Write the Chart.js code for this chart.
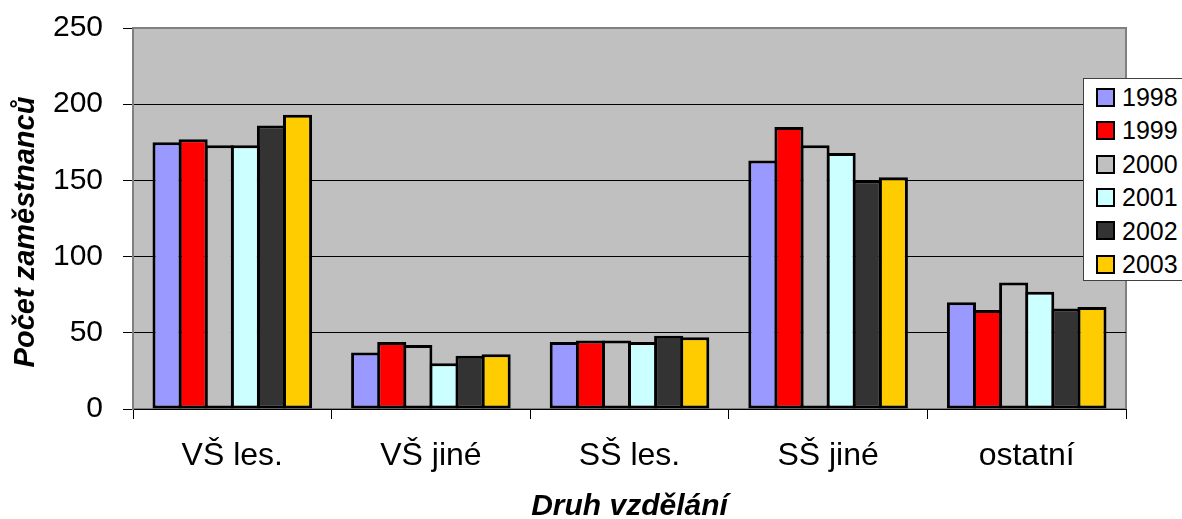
<!DOCTYPE html>
<html>
<head>
<meta charset="utf-8">
<script src="https://cdn.jsdelivr.net/npm/chart.js@4"></script>
<style>
  body { margin: 0; background: #fff; }
  #holder { position: relative; width: 1182px; height: 519px; }
  #legend {
    position: absolute; left: 1083px; top: 78px; width: 110px; height: 203px;
    background: #fff; border: 1px solid #404040; box-sizing: border-box;
    font-family: 'Liberation Sans', Arial, sans-serif; font-size: 25px;
  }
  .item { position: absolute; left: 12px; height: 28px; line-height: 28px; white-space: nowrap; }
  .swatch {
    display: inline-block; width: 15px; height: 15px; border: 2px solid #000;
    vertical-align: middle; margin-right: 7px; position: relative; top: -2px;
  }
</style>
</head>
<body>
<div id="holder">
  <canvas id="chart" width="1182" height="519"></canvas>
  <div id="legend"></div>
</div>
<script>
// Categories and values per year
const categories = ['VŠ les.', 'VŠ jiné', 'SŠ les.', 'SŠ jiné', 'ostatní'];
const years = ['1998', '1999', '2000', '2001', '2002', '2003'];
const values1998 = [175, 37, 44, 163, 70];
const values1999 = [177, 44, 45, 185, 65];
const values2000 = [173, 42, 45, 173, 83];
const values2001 = [173, 30, 44, 168, 77];
const values2002 = [186, 35, 48, 150, 66];
const values2003 = [193, 36, 47, 152, 67];
const yTicks = [0, 50, 100, 150, 200, 250];

const seriesValues = [values1998, values1999, values2000, values2001, values2002, values2003];
const seriesColors = ['#9999FF', '#FF0000', '#C0C0C0', '#CCFFFF', '#333333', '#FFCC00'];

const fontFamily = "'Liberation Sans', Arial, sans-serif";

// Grey plot background with border, plus the rotated y title
const plotBackground = {
    id: 'plotBackground',
    beforeDraw(chart) {
        const {ctx, chartArea: a} = chart;
        ctx.save();
        ctx.fillStyle = '#C0C0C0';
        ctx.fillRect(a.left, a.top, a.right - a.left, a.bottom - a.top);
        ctx.strokeStyle = '#808080';
        ctx.lineWidth = 2;
        ctx.strokeRect(a.left, a.top, a.right - a.left, a.bottom - a.top);
        ctx.restore();
    },
    afterDraw(chart) {
        const ctx = chart.ctx;
        ctx.save();
        ctx.translate(26, 232);
        ctx.rotate(-Math.PI / 2);
        ctx.font = 'italic bold 29px ' + fontFamily;
        ctx.fillStyle = '#000';
        ctx.textAlign = 'center';
        ctx.textBaseline = 'middle';
        ctx.fillText('Počet zaměstnanců', 0, 0);
        ctx.restore();
    }
};

const datasets = years.map((year, i) => ({
    label: year,
    data: seriesValues[i],
    backgroundColor: seriesColors[i],
    borderColor: '#000',
    borderWidth: 3,
    borderSkipped: false,
    categoryPercentage: 0.7885,
    barPercentage: 1.115
}));

const config = {
    type: 'bar',
    data: { labels: categories, datasets: datasets },
    options: {
        responsive: false,
        animation: false,
        layout: { padding: { top: 0, right: 56, left: 0, bottom: 0 } },
        scales: {
            x: {
                grid: { offset: true, drawOnChartArea: false, tickLength: 10, color: '#000', tickColor: '#000' },
                border: { color: '#000', width: 1 },
                ticks: { color: '#000', padding: 18, font: { family: fontFamily, size: 32 } },
                title: {
                    display: true, text: 'Druh vzdělání', color: '#000',
                    padding: { top: 0, bottom: 0 },
                    font: { family: fontFamily, size: 30, weight: 'bold', style: 'italic', lineHeight: 0.8 }
                },
                afterFit(scale) { scale.height = 110; }
            },
            y: {
                min: 0, max: 250,
                afterBuildTicks(scale) { scale.ticks = yTicks.map(v => ({ value: v })); },
                grid: {
                    tickLength: 10, tickColor: '#000',
                    color: ctx => (ctx.tick && ctx.tick.value === 250) ? 'rgba(0,0,0,0)' : '#000'
                },
                border: { color: '#808080', width: 2 },
                ticks: { color: '#000', padding: 20, font: { family: fontFamily, size: 30 } },
                afterFit(scale) { scale.width = 133; scale.paddingTop = 28; }
            }
        },
        plugins: {
            legend: { display: false },
            tooltip: { enabled: false }
        }
    },
    plugins: [plotBackground]
};

new Chart(document.getElementById('chart').getContext('2d'), config);

// HTML legend overlapping the plot's right edge
const legend = document.getElementById('legend');
years.forEach((year, i) => {
    const item = document.createElement('div');
    item.className = 'item';
    item.style.top = (4 + i * 33.4) + 'px';
    const sw = document.createElement('span');
    sw.className = 'swatch';
    sw.style.background = seriesColors[i];
    item.appendChild(sw);
    item.appendChild(document.createTextNode(year));
    legend.appendChild(item);
});
</script>
</body>
</html>
